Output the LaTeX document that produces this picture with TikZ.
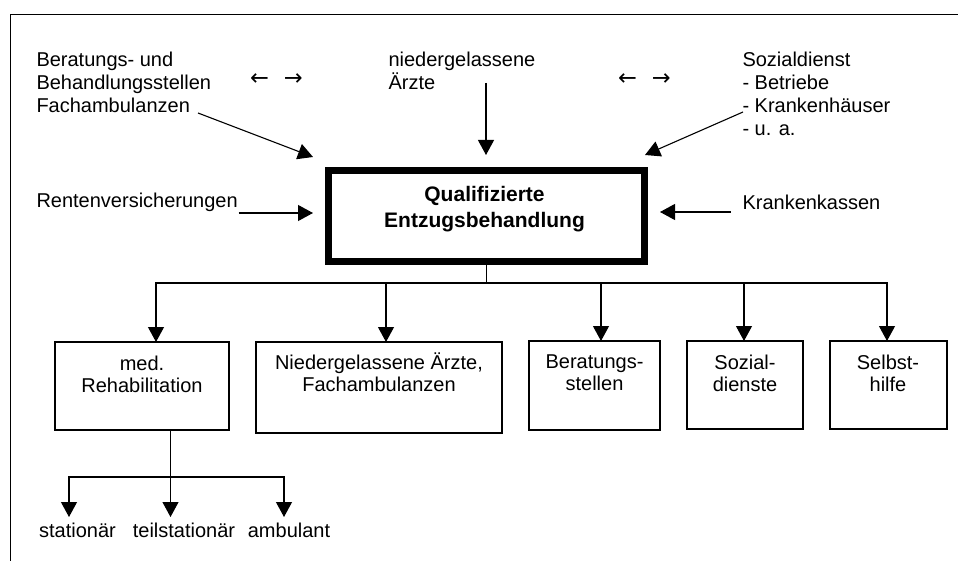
\documentclass[tikz,border=0pt]{standalone}
\usepackage{fontspec}
\setmainfont{Liberation Sans}
\newfontfamily\arrowfont{DejaVu Sans}
\usetikzlibrary{arrows.meta}
\begin{document}
\begin{tikzpicture}[x=1pt,y=-1pt,
  every node/.style={inner sep=0pt, outer sep=0pt},
  txt/.style={font=\fontsize{20}{23}\selectfont, align=left},
  ctxt/.style={font=\fontsize{20}{22}\selectfont, align=center},
  arr/.style={-{Triangle[width=16pt,length=15pt]}, line width=1.1pt},
  ln/.style={line width=1.1pt},
  box/.style={draw, line width=1.1pt, rectangle},
  lrtxt/.style={font=\arrowfont\fontsize{22.5}{24}\selectfont},
  mainbox/.style={draw, line width=7pt, rectangle, minimum width=316pt, minimum height=91pt},
]
\useasboundingbox (0,0) rectangle (958,561);
\fill[white] (0,0) rectangle (958,561);
\draw[line width=1pt] (10,561) -- (10,15) -- (958,15);

% main box
\node[mainbox] (main) at (486.5,216) {};
\node[font=\bfseries\fontsize{21}{26}\selectfont, align=center, anchor=north] (maintext) at (484.5,186.5) {Qualifizierte\\Entzugsbehandlung};

% sources
\node[txt, anchor=north west] (bera) at (36.5,52.5) {Beratungs- und\\Behandlungsstellen\\Fachambulanzen};
\node[txt, anchor=north west] (arzt) at (388.5,52.5) {niedergelassene\\Ärzte};
\node[txt, anchor=north west] (sozd) at (742.5,52.5) {Sozialdienst\\- Betriebe\\- Krankenhäuser\\- u. a.};
\node[lrtxt] (lr1) at (276.5,80) {←\hspace{15pt}→};
\node[lrtxt] (lr2) at (644.5,80) {←\hspace{15pt}→};
\node[txt, anchor=base west] (rv) at (36.5,207.5) {Rentenversicherungen};
\node[txt, anchor=base west] (kk) at (742.5,209.5) {Krankenkassen};

\coordinate (a1s) at (198,113);
\coordinate (a1e) at (313,157);
\coordinate (a2s) at (486,83);
\coordinate (a2e) at (486,155);
\coordinate (a3s) at (743,112);
\coordinate (a3e) at (645,155);
\coordinate (a4e) at (313,213);
\coordinate (a5e) at (660,212);
\draw[arr] (a1s) -- (a1e);
\draw[arr] (a2s) -- (a2e);
\draw[arr] (a3s) -- (a3e);
\draw[arr] ([xshift=1pt]rv.east |- a4e) -- (a4e);
\draw[arr] ([xshift=-12pt]kk.west |- a5e) -- (a5e);

% targets
\node[box, minimum width=174pt, minimum height=88pt] (b1) at (142,386) {};
\node[box, minimum width=246pt, minimum height=91pt] (b2) at (379,387.5) {};
\node[box, minimum width=131pt, minimum height=89pt] (b3) at (594.5,385.5) {};
\node[box, minimum width=116pt, minimum height=88pt] (b4) at (745,385) {};
\node[box, minimum width=117pt, minimum height=88pt] (b5) at (888.5,385) {};
\node[ctxt, anchor=north] (b1t) at (142,356) {med.\\Rehabilitation};
\node[ctxt, anchor=north] (b2t) at (379,353) {Niedergelassene Ärzte,\\Fachambulanzen};
\node[ctxt, anchor=north] (b3t) at (594.5,355) {Beratungs-\\stellen};
\node[ctxt, anchor=north] (b4t) at (745,355) {Sozial-\\dienste};
\node[ctxt, anchor=north] (b5t) at (888,355) {Selbst-\\hilfe};

\coordinate (bar) at (486.5,283);
\draw[ln] (main.south) -- (bar);
\draw[arr] (bar) -| ([xshift=14pt]b1.north);
\draw[arr] (bar) -| ([xshift=-1.5pt]b5.north);
\draw[arr] ([xshift=7pt]b2.north |- bar) -- ([xshift=7pt]b2.north);
\draw[arr] ([xshift=6.5pt]b3.north |- bar) -- ([xshift=6.5pt]b3.north);
\draw[arr] ([xshift=-1pt]b4.north |- bar) -- ([xshift=-1pt]b4.north);

% sub tree
\coordinate (sub) at (170.5,477);
\coordinate (st1) at (69,517);
\coordinate (ts1) at (170.5,517);
\coordinate (am1) at (284,517);
\draw[ln] (b1.south -| sub) -- (sub);
\draw[arr] (sub) -| (st1);
\draw[arr] (sub) -| (am1);
\draw[arr] (sub) -- (ts1);
\node[txt, anchor=base] (st) at (77.5,537) {stationär};
\node[txt, anchor=base] (ts) at (184,537) {teilstationär};
\node[txt, anchor=base] (am) at (289,537) {ambulant};
\end{tikzpicture}
\end{document}
